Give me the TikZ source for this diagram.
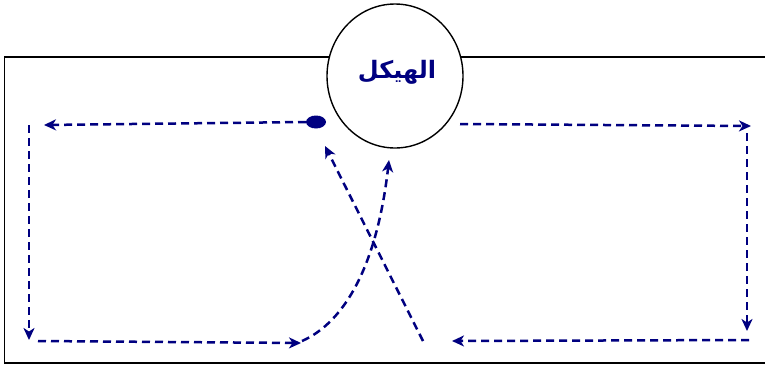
\documentclass[tikz,border=0pt]{standalone}
\usepackage{fontspec}
\newfontfamily\arabicbold[Script=Arabic]{DejaVu Sans Bold}
\TeXXeTstate=1
\usetikzlibrary{arrows.meta,shapes.geometric}
\definecolor{navyline}{RGB}{0,0,128}
\begin{document}
\begin{tikzpicture}[x=1pt,y=-1pt,
  flow/.style={draw=navyline, line width=2.5pt, dash pattern=on 8pt off 5pt,
    -{Stealth[length=12pt,width=11pt,inset=3.5pt]}},
  frame/.style={draw=black, line width=1.7pt},
  hub/.style={ellipse, draw=black, line width=1.4pt, fill=white, minimum width=136pt, minimum height=144pt, inner sep=0pt}]
\useasboundingbox (0,0) rectangle (765,365);
\fill[white] (0,0) rectangle (765,365);
\draw[frame] (767,57) -- (4.5,57) -- (4.5,363) -- (767,363);
\node[ellipse, fill=navyline, minimum width=20pt, minimum height=13pt, inner sep=0pt] (dot) at (316,122) {};
\node[hub] (hub) at (395,76) {};
\node[text=navyline, font=\fontsize{24}{27}\selectfont] (lbl) at (397,72) {\arabicbold\beginR الهيكل\endR};
% coordinates
\coordinate (a1) at (306,122);
\coordinate (a2) at (44,125);
\coordinate (b1) at (29,125);
\coordinate (b2) at (29,340);
\coordinate (c1) at (38,341);
\coordinate (c2) at (301,343);
\coordinate (d1) at (302,341);
\coordinate (d2) at (389,160);
\coordinate (e1) at (423,341);
\coordinate (e2) at (325,146);
\coordinate (f1) at (460,124);
\coordinate (f2) at (751,126);
\coordinate (g1) at (747,133);
\coordinate (g2) at (747,331);
\coordinate (h1) at (749,340);
\coordinate (h2) at (452,341);
\draw[flow] (a1) -- (a2);
\draw[flow] (b1) -- (b2);
\draw[flow] (c1) -- (c2);
\draw[flow] (d1) .. controls (345,322) and (377,265) .. (d2);
\draw[flow] (e1) -- (e2);
\draw[flow] (f1) -- (f2);
\draw[flow] (g1) -- (g2);
\draw[flow] (h1) -- (h2);
\end{tikzpicture}
\end{document}
